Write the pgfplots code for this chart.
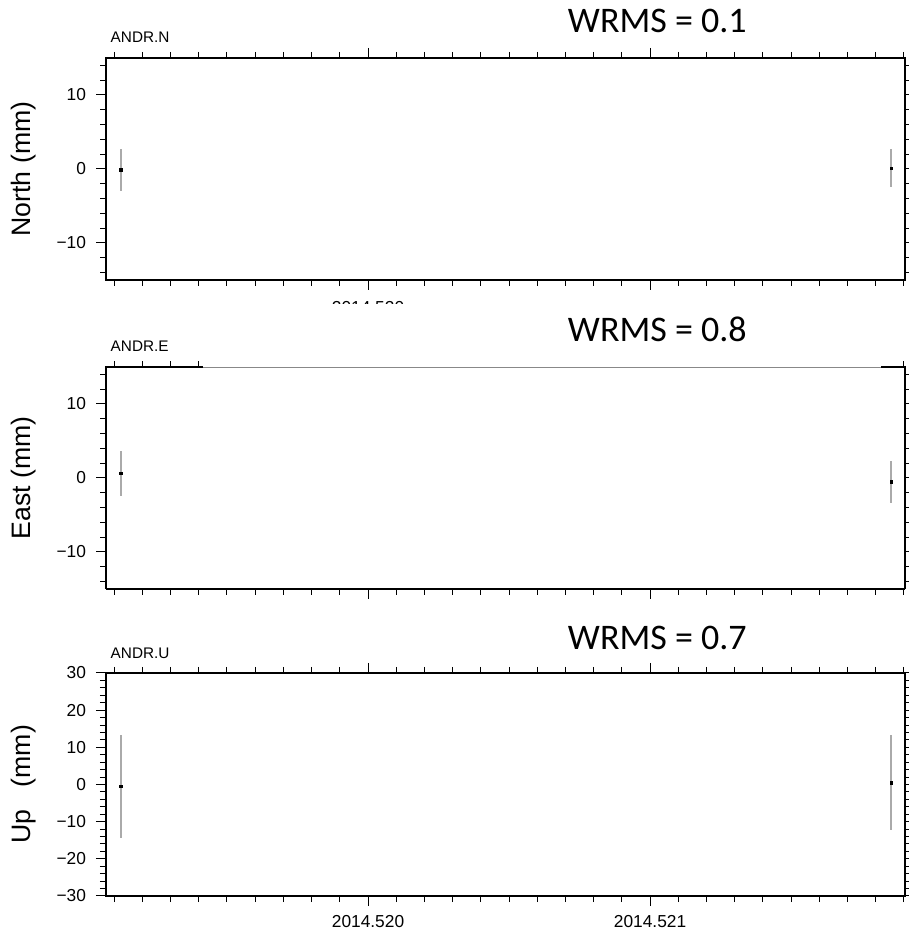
\documentclass[border=0pt]{standalone}
\usepackage{pgfplots}
\pgfplotsset{compat=1.18}
\usepackage{pgfplotstable}
\usepackage{fontspec}
\setmainfont{Liberation Sans}
\newfontfamily\calibri{Carlito}
\definecolor{gl}{RGB}{136,136,136}
\definecolor{eb}{RGB}{170,170,170}

\pgfplotstableread{
x y ey
-0.876 -0.1 2.85
1.855 0.1 2.6
}\north
\pgfplotstableread{
x y ey
-0.876 0.6 3.05
1.855 -0.53 2.85
}\east
\pgfplotstableread{
x y ey
-0.876 -0.45 13.9
1.855 0.46 12.8
}\up

\pgfplotsset{
 gmt/.style={
  scale only axis, width=599.25pt, height=166.5pt,
  xmin=-0.929, xmax=1.904,
  xtick={0,1},
  minor xtick={-0.9,-0.8,-0.7,-0.6,-0.5,-0.4,-0.3,-0.2,-0.1,0.1,0.2,0.3,0.4,0.5,0.6,0.7,0.8,0.9,1.1,1.2,1.3,1.4,1.5,1.6,1.7,1.8,1.9},
  tick align=outside,
  major tick length=7.5pt, minor tick length=4.5pt,
  tick style={black, line width=0.75pt},
  axis line style={line width=1.5pt},
  ticklabel style={font=\fontsize{13}{15}\selectfont},
  xticklabel shift={3.5pt},
  yticklabel shift={4pt},
  clip=false,
  anchor=south west,
 },
 pts/.style={only marks, mark=square*, mark size=0.9pt, black,
  error bars/.cd, y dir=both, y explicit, error mark=none,
  error bar style={color=eb, line width=1.1pt}},
}

\begin{document}
\begin{tikzpicture}
\useasboundingbox (0,0) rectangle (681pt,698.25pt);
% ---------- North ----------
\begin{axis}[gmt, at={(79.5pt,488.25pt)},
  ymin=-15, ymax=15, ytick={-10,0,10}, yticklabels={−10,0,10},
  minor ytick={-14,-12,-10,-8,-6,-4,-2,2,4,6,8,12,14},
  xticklabel shift={5pt},
  xticklabels={2014.520,{}}]
\addplot[pts] table[x=x,y=y,y error=ey]{\north};
\node[anchor=base west, font=\fontsize{11.5}{13}\selectfont] at ([yshift=11.25pt]rel axis cs:0,1) {ANDR.N};
\node[anchor=base, font=\calibri\fontsize{27}{30}\selectfont] at ([yshift=18.75pt]rel axis cs:0.69,1) {WRMS = 0.1};
\node[rotate=90, font=\fontsize{20}{24}\selectfont] at (rel axis cs:-0.1026,0.5) {North (mm)};
\end{axis}
\fill[white] (187.5pt,459.75pt) rectangle (375pt,470.6pt);
% ---------- East ----------
\begin{axis}[gmt, at={(79.5pt,256.5pt)}, axis x line*=bottom,
  ymin=-15, ymax=15, ytick={-10,0,10}, yticklabels={−10,0,10},
  minor ytick={-14,-12,-10,-8,-6,-4,-2,2,4,6,8,12,14},
  xticklabels={}]
\addplot[pts] table[x=x,y=y,y error=ey]{\east};
\draw[gl, line width=0.7pt] (rel axis cs:0,1) -- (rel axis cs:1,1);
\draw[black, line width=1.5pt] ([xshift=-0.75pt]rel axis cs:0,1) -- (axis cs:-0.585,15);
\draw[black, line width=1.5pt] (axis cs:1.819,15) -- ([xshift=0.75pt]rel axis cs:1,1);
\draw[black, line width=0.75pt] (axis cs:-0.9,15) -- ([yshift=4.5pt]axis cs:-0.9,15);
\draw[black, line width=0.75pt] (axis cs:-0.8,15) -- ([yshift=4.5pt]axis cs:-0.8,15);
\draw[black, line width=0.75pt] (axis cs:-0.7,15) -- ([yshift=4.5pt]axis cs:-0.7,15);
\draw[black, line width=0.75pt] (axis cs:-0.6,15) -- ([yshift=4.5pt]axis cs:-0.6,15);
\draw[black, line width=0.75pt] (axis cs:1.9,15) -- ([yshift=4.5pt]axis cs:1.9,15);
\node[anchor=base west, font=\fontsize{11.5}{13}\selectfont] at ([yshift=11.25pt]rel axis cs:0,1) {ANDR.E};
\node[anchor=base, font=\calibri\fontsize{27}{30}\selectfont] at ([yshift=18.75pt]rel axis cs:0.69,1) {WRMS = 0.8};
\node[rotate=90, font=\fontsize{20}{24}\selectfont] at (rel axis cs:-0.1026,0.5) {East (mm)};
\end{axis}
% ---------- Up ----------
\begin{axis}[gmt, at={(79.5pt,26.25pt)}, height=167.25pt,
  ymin=-30, ymax=30, ytick={-30,-20,-10,0,10,20,30},
  yticklabels={−30,−20,−10,0,10,20,30},
  minor ytick={-28,-26,-24,-22,-18,-16,-14,-12,-8,-6,-4,-2,2,4,6,8,12,14,16,18,22,24,26,28},
  xticklabels={2014.520,2014.521}]
\addplot[pts] table[x=x,y=y,y error=ey]{\up};
\node[anchor=base west, font=\fontsize{11.5}{13}\selectfont] at ([yshift=10.5pt]rel axis cs:0,1) {ANDR.U};
\node[anchor=base, font=\calibri\fontsize{27}{30}\selectfont] at ([yshift=17.25pt]rel axis cs:0.69,1) {WRMS = 0.7};
\node[rotate=90, font=\fontsize{20}{24}\selectfont] at (rel axis cs:-0.1026,0.5) {Up\hspace{17pt}(mm)};
\end{axis}
\end{tikzpicture}
\end{document}
